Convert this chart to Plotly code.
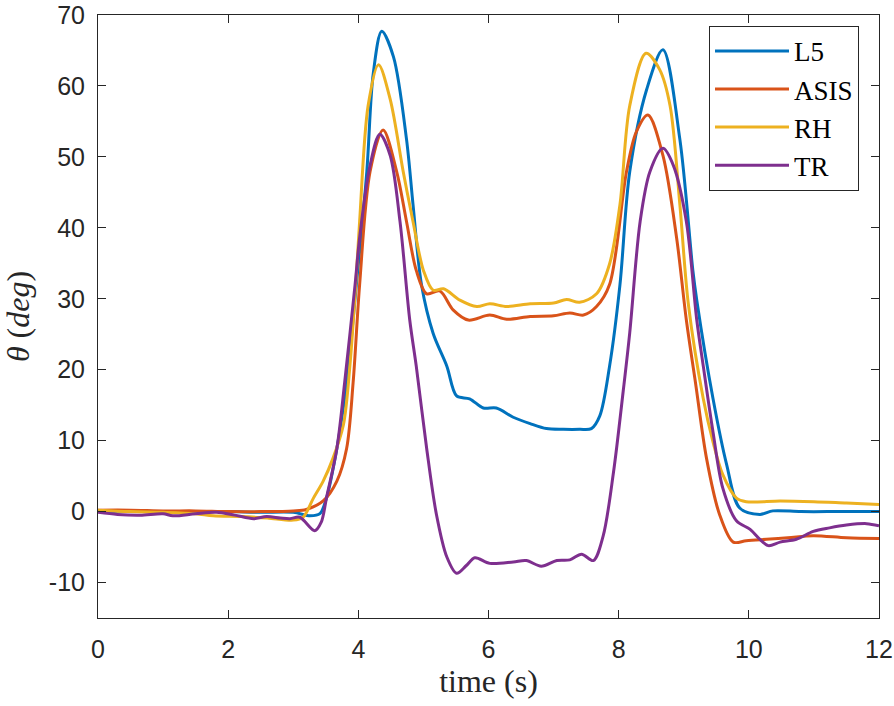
import plotly.graph_objects as go

# ---- data ----
t_L5 = [0, 0.5, 1.0, 1.5, 2.0, 2.5, 3.0, 3.26, 3.41, 3.51, 3.67, 3.82, 3.97, 4.13, 4.23, 4.36,
        4.54, 4.74, 4.84, 4.97, 5.15, 5.36, 5.51, 5.71, 5.92, 6.12, 6.38, 6.64, 6.89, 7.15, 7.4,
        7.58, 7.71, 7.86, 8.02, 8.17, 8.43, 8.68, 8.94, 9.14, 9.2, 9.45, 9.66, 9.86, 10.17,
        10.37, 10.8, 11.4, 12.0]
y_L5 = [0, 0.1, 0, 0, 0, -0.1, -0.1, -0.6, -0.3, 1.9, 8.9, 18.2, 32, 47.9, 61.8, 67.7,
        64.1, 52.5, 43.3, 32, 25.1, 20.5, 16.3, 15.9, 14.6, 14.6, 13.3, 12.4, 11.7, 11.6, 11.6,
        11.7, 13.5, 20.5, 32, 47.9, 59.5, 65.1, 52.5, 34, 29.8, 15.9, 6.6, 0.5, -0.4,
        0.1, 0, 0, 0]

t_ASIS = [0, 0.5, 1.0, 1.5, 2.0, 2.5, 3.0, 3.2, 3.46, 3.67, 3.82, 3.92, 4.02, 4.18, 4.38,
          4.59, 4.74, 4.89, 5.05, 5.25, 5.46, 5.69, 6.02, 6.28, 6.64, 7.0, 7.25, 7.46, 7.66,
          7.86, 8.12, 8.27, 8.45, 8.68, 8.89, 9.04, 9.18, 9.35, 9.55, 9.76, 9.96, 10.27,
          10.6, 10.99, 11.5, 12.0]
y_ASIS = [0.2, 0.2, 0.1, 0.1, 0, 0, 0.1, 0.3, 1.5, 4.3, 8.9, 18.2, 32, 47.9, 53.8,
          47.9, 40.9, 34, 30.7, 31.1, 28.4, 27, 27.7, 27.1, 27.5, 27.6, 28, 27.7, 28.9,
          32, 47.9, 53.5, 55.9, 50.2, 38.6, 27, 18.2, 7.5, -0.4, -4.3, -4.1, -3.9,
          -3.7, -3.4, -3.7, -3.8]

t_RH = [0, 0.5, 1.0, 1.5, 1.77, 2.2, 2.6, 3.0, 3.15, 3.31, 3.46, 3.61, 3.77, 3.87, 3.96,
        4.02, 4.15, 4.31, 4.49, 4.69, 4.84, 5.0, 5.15, 5.31, 5.56, 5.82, 6.02, 6.28, 6.64,
        7.0, 7.2, 7.4, 7.66, 7.86, 8.02, 8.17, 8.42, 8.63, 8.79, 8.94, 9.07, 9.3, 9.45,
        9.6, 9.81, 9.96, 10.48, 11.0, 11.5, 12.0]
y_RH = [0.2, 0, -0.1, -0.3, -0.6, -0.7, -0.9, -1.2, -0.8, 1.9, 4.3, 7.5, 12.2, 20.5, 32,
        40.9, 57.2, 63, 58.1, 47.9, 40.9, 34, 31.2, 31.4, 29.8, 28.9, 29.3, 28.9, 29.3,
        29.4, 29.9, 29.5, 30.7, 34.9, 43.3, 57.2, 64.6, 62.3, 57.2, 43.3, 29.3, 15.9, 9.8,
        5.2, 1.9, 1.4, 1.5, 1.4, 1.2, 1.0]

t_TR = [0, 0.3, 0.65, 1.0, 1.15, 1.5, 1.82, 2.1, 2.39, 2.59, 2.8, 2.95, 3.1, 3.33, 3.43,
        3.51, 3.67, 3.79, 3.95, 4.02, 4.18, 4.33, 4.49, 4.64, 4.79, 4.89, 5.05, 5.2, 5.36,
        5.51, 5.66, 5.79, 6.02, 6.38, 6.58, 6.81, 7.05, 7.25, 7.43, 7.61, 7.76, 7.92, 8.07,
        8.17, 8.33, 8.48, 8.68, 8.84, 9.04, 9.2, 9.3, 9.45, 9.6, 9.81, 10.02, 10.17, 10.3,
        10.48, 10.73, 10.99, 11.24, 11.5, 11.81, 12.0]
y_TR = [-0.1, -0.4, -0.5, -0.3, -0.6, -0.3, -0.1, -0.5, -1.0, -0.7, -0.9, -1.0, -0.8, -2.7, -1.5,
        1.9, 8.9, 18.2, 32, 38.6, 48.8, 53.2, 50.2, 40.9, 27, 20.5, 8.9, -0.4, -6.4,
        -8.7, -7.6, -6.5, -7.3, -7.1, -6.9, -7.7, -6.9, -6.8, -6.0, -6.9, -3.5, 5.5, 17,
        25.2, 40.9, 47.9, 51.2, 48.8, 40.9, 27, 20.5, 11.2, 3.3, -1.3, -2.5, -3.9, -4.8,
        -4.3, -3.9, -2.8, -2.3, -1.9, -1.7, -2.0]

names = ["L5", "ASIS", "RH", "TR"]
colors = ["#0072BD", "#D95319", "#EDB120", "#7E2F8E"]
x_ticks = [0, 2, 4, 6, 8, 10, 12]
x_ticktext = ["0", "2", "4", "6", "8", "10", "12"]
y_ticks = [-10, 0, 10, 20, 30, 40, 50, 60, 70]
y_ticktext = ["-10", "0", "10", "20", "30", "40", "50", "60", "70"]

series = [(t_L5, y_L5), (t_ASIS, y_ASIS), (t_RH, y_RH), (t_TR, y_TR)]

fig = go.Figure()
for (tx, ty), nm, c in zip(series, names, colors):
    fig.add_trace(go.Scatter(x=tx, y=ty, name=nm, mode="lines",
                             line=dict(color=c, width=3, shape="spline", smoothing=0.9)))

axis_common = dict(showline=True, linecolor="#262626", linewidth=1, mirror="ticks",
                   ticks="inside", ticklen=8, tickcolor="#262626", showgrid=False,
                   zeroline=False, automargin=False, ticklabeloverflow="allow",
                   tickfont=dict(family="Liberation Sans, Arial", size=25, color="#262626"))

title_font = dict(family="Liberation Serif, serif", size=32, color="#262626")

fig.update_xaxes(range=[0, 12], tickvals=x_ticks, ticktext=x_ticktext, ticklabelstandoff=9,
                 title=dict(text="time (s)", font=title_font, standoff=4),
                 **axis_common)
fig.update_yaxes(range=[-15, 70], tickvals=y_ticks, ticktext=y_ticktext, ticklabelstandoff=7,
                 title=dict(text="<i>θ</i> (<i>deg</i>)", font=title_font, standoff=10),
                 **axis_common)

fig.update_layout(
    width=894, height=706,
    margin=dict(l=98, r=15, t=15, b=88),
    plot_bgcolor="white", paper_bgcolor="white",
    legend=dict(x=0.9744, xanchor="right", y=0.982, yanchor="top",
                bgcolor="white", bordercolor="#262626", borderwidth=1,
                font=dict(family="Liberation Serif, serif", size=27, color="black"),
                itemwidth=74, tracegroupgap=0),
)

fig.write_html("out.html", config={"displayModeBar": False},
               post_script="document.body.style.margin='0';document.body.style.padding='0';")
